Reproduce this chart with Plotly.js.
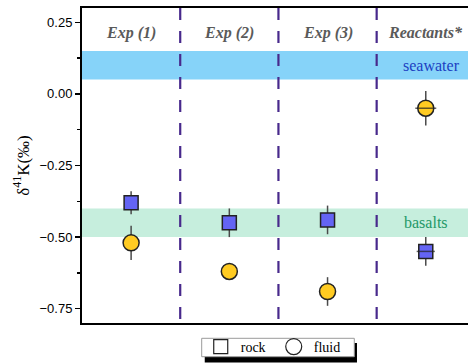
<!DOCTYPE html>
<html>
<head>
<meta charset="utf-8">
<script src="https://cdn.plot.ly/plotly-3.0.1.min.js"></script>
<style>html,body{margin:0;padding:0;background:#fff;}#chart{width:468px;height:363px;}</style>
</head>
<body>
<div id="chart"></div>
<script>
// ---- data ----
const categories = ["Exp (1)", "Exp (2)", "Exp (3)", "Reactants*"];
const xPos = [1, 2, 3, 4];
const rockY = [-0.38, -0.45, -0.44, -0.55];
const rockErr = [0.04, 0.05, 0.05, 0.05];
const fluidY = [-0.52, -0.62, -0.69, -0.05];
const fluidErr = [0.06, 0.02, 0.05, 0.06];
const seawaterBand = [0.05, 0.15];
const basaltBand = [-0.50, -0.40];
const dividers = [1.5, 2.5, 3.5];
const bandLabels = ["seawater", "basalts"];
const seriesNames = ["rock", "fluid"];

const serif = "Liberation Serif, Times New Roman, serif";
const sans = "Liberation Sans, Arial, sans-serif";

const traces = [
  {
    type: "scatter", mode: "markers", x: xPos, y: rockY, showlegend: false, name: seriesNames[0],
    error_y: {type: "data", array: rockErr, visible: true, color: "#4a4a4a", thickness: 1.5, width: 0},
    marker: {symbol: "square", size: 14, color: "#6464f4", line: {color: "#222", width: 1.5}}
  },
  {
    type: "scatter", mode: "markers", x: xPos, y: fluidY, showlegend: false, name: seriesNames[1],
    error_y: {type: "data", array: fluidErr, visible: true, color: "#4a4a4a", thickness: 1.5, width: 0},
    marker: {symbol: "circle", size: 16, color: "#ffcb22", line: {color: "#222", width: 1.5}}
  },
  {
    type: "scatter", mode: "markers", x: [xPos[3], xPos[3]], y: [rockY[3], fluidY[3]], showlegend: false,
    marker: {symbol: "line-ew", size: [13, 15], line: {color: "#222", width: 1.5}}
  },
  {
    type: "scatter", mode: "markers", x: [null], y: [null], name: seriesNames[0],
    marker: {symbol: "square-open", size: 14, color: "#222", line: {width: 1.2}}
  },
  {
    type: "scatter", mode: "markers", x: [null], y: [null], name: seriesNames[1],
    marker: {symbol: "circle-open", size: 16, color: "#222", line: {width: 1.2}}
  }
];

const shapes = [
  {type: "rect", xref: "paper", yref: "y", x0: 0, x1: 1, y0: seawaterBand[0], y1: seawaterBand[1],
   fillcolor: "#86d3f9", line: {width: 0}, layer: "below"},
  {type: "rect", xref: "paper", yref: "y", x0: 0, x1: 1, y0: basaltBand[0], y1: basaltBand[1],
   fillcolor: "#c6eedd", line: {width: 0}, layer: "below"}
];
dividers.forEach(d => shapes.push({
  type: "line", xref: "x", yref: "paper", x0: d, x1: d, y0: 1, y1: 0,
  line: {color: "#48298c", width: 2.2, dash: "12px,11px"}, layer: "below"
}));
// legend frame with drop shadow
shapes.push({type: "rect", xref: "paper", yref: "paper", x0: 0.318, x1: 0.7124, y0: -0.0635, y1: -0.1254,
  fillcolor: "#000", line: {width: 0}});
shapes.push({type: "rect", xref: "paper", yref: "paper", x0: 0.3101, x1: 0.7054, y0: -0.0486, y1: -0.1070,
  fillcolor: "#fff", line: {color: "#9a9a9a", width: 1}});

const annotations = categories.map((c, i) => ({
  x: xPos[i], y: 0.213, xref: "x", yref: "y", text: "<b><i>" + c + "</i></b>", showarrow: false,
  font: {family: serif, size: 16, color: "#5a5a5a"}, xanchor: "center", yanchor: "middle"
}));
annotations.push({x: 4.06, y: (seawaterBand[0] + seawaterBand[1]) / 2, xref: "x", yref: "y", text: bandLabels[0],
  showarrow: false, font: {family: serif, size: 16, color: "#1c3fc2"}});
annotations.push({x: 4.0, y: (basaltBand[0] + basaltBand[1]) / 2, xref: "x", yref: "y", text: bandLabels[1],
  showarrow: false, font: {family: serif, size: 16, color: "#1f9868"}});

const layout = {
  width: 468, height: 363,
  margin: {l: 82, r: 0, t: 8, b: 40},
  paper_bgcolor: "#fff", plot_bgcolor: "#fff",
  xaxis: {range: [0.5, 4.43], showgrid: false, zeroline: false, showticklabels: false, ticks: "",
          showline: true, linecolor: "#000", linewidth: 2, mirror: true, fixedrange: true},
  yaxis: {range: [-0.8, 0.3], showgrid: false, zeroline: false, showline: true, linecolor: "#000", linewidth: 2,
          ticks: "outside", ticklen: 5, tickwidth: 1.5, tickcolor: "#000", tick0: 0.25, dtick: 0.25, tickformat: ".2f",
          minor: {dtick: 0.125, tick0: 0.125, ticks: "outside", ticklen: 3, tickwidth: 1.5, tickcolor: "#000"},
          tickfont: {family: sans, size: 13, color: "#000"}, automargin: true,
          title: {text: "δ<sup>41</sup>K(‰)", font: {family: serif, size: 17, color: "#000"}, standoff: 6}},
  showlegend: true,
  legend: {orientation: "h", x: 0.3076, y: -0.0778, xanchor: "left", yanchor: "middle",
           bgcolor: "rgba(0,0,0,0)", borderwidth: 0, entrywidth: 28, entrywidthmode: "pixels",
           font: {family: serif, size: 14, color: "#000"}, itemwidth: 30},
  shapes: shapes,
  annotations: annotations
};

Plotly.newPlot("chart", traces, layout, {displayModeBar: false, staticPlot: true});
</script>
</body>
</html>
